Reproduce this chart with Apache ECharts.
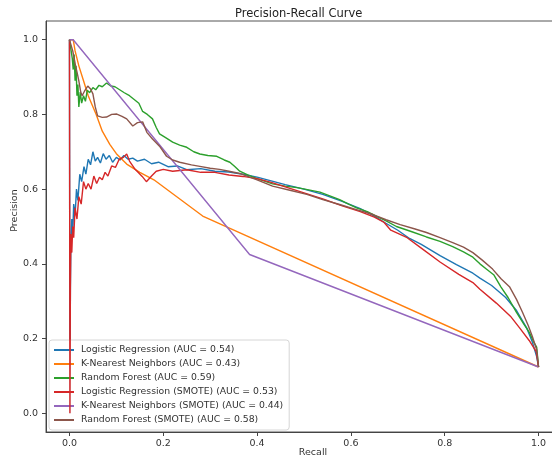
<!DOCTYPE html>
<html>
<head>
<meta charset="utf-8">
<script src="https://cdn.jsdelivr.net/npm/echarts@6/dist/echarts.min.js"></script>
<style>
  html, body { margin: 0; padding: 0; background: #fff; }
  #chart { width: 552px; height: 461px; }
</style>
</head>
<body>
<div id="chart"></div>
<script>
// [recall, precision] points
const lrCurve = [[0,1],[0.001,0.0],[0.002,0.33],[0.003,0.45],[0.005,0.52],[0.007,0.48],[0.009,0.56],[0.012,0.53],[0.015,0.60],[0.018,0.57],[0.022,0.64],[0.026,0.62],[0.031,0.66],[0.035,0.64],[0.040,0.68],[0.045,0.665],[0.050,0.70],[0.055,0.675],[0.060,0.685],[0.066,0.67],[0.072,0.695],[0.078,0.68],[0.085,0.69],[0.092,0.672],[0.10,0.685],[0.108,0.678],[0.116,0.69],[0.125,0.68],[0.135,0.683],[0.145,0.675],[0.16,0.68],[0.175,0.668],[0.19,0.672],[0.21,0.66],[0.23,0.662],[0.25,0.652],[0.28,0.655],[0.31,0.648],[0.34,0.646],[0.37,0.64],[0.40,0.632],[0.43,0.622],[0.46,0.612],[0.50,0.60],[0.54,0.586],[0.58,0.568],[0.62,0.548],[0.65,0.528],[0.67,0.512],[0.70,0.49],[0.725,0.468],[0.75,0.452],[0.79,0.422],[0.825,0.398],[0.86,0.375],[0.875,0.362],[0.90,0.342],[0.93,0.31],[0.953,0.275],[0.975,0.228],[0.987,0.19],[0.996,0.152],[1.0,0.124]];
const knnCurve = [[0,1],[0.008,1.0],[0.012,0.97],[0.02,0.93],[0.03,0.89],[0.04,0.85],[0.057,0.80],[0.07,0.755],[0.086,0.72],[0.10,0.695],[0.122,0.667],[0.15,0.645],[0.18,0.625],[0.284,0.528],[1.0,0.124]];
const rfCurve = [[0,1],[0.004,1.0],[0.006,0.95],[0.008,0.92],[0.010,0.96],[0.012,0.89],[0.014,0.93],[0.016,0.85],[0.018,0.88],[0.020,0.82],[0.023,0.86],[0.026,0.83],[0.03,0.85],[0.034,0.835],[0.038,0.865],[0.043,0.858],[0.05,0.872],[0.056,0.866],[0.063,0.878],[0.07,0.874],[0.079,0.884],[0.088,0.876],[0.097,0.874],[0.107,0.866],[0.117,0.858],[0.128,0.85],[0.14,0.838],[0.148,0.83],[0.156,0.808],[0.166,0.80],[0.177,0.788],[0.185,0.765],[0.192,0.748],[0.205,0.738],[0.22,0.726],[0.235,0.718],[0.25,0.712],[0.265,0.70],[0.278,0.694],[0.295,0.69],[0.314,0.688],[0.33,0.678],[0.342,0.672],[0.353,0.66],[0.363,0.648],[0.38,0.638],[0.40,0.628],[0.433,0.614],[0.46,0.608],[0.485,0.604],[0.51,0.598],[0.534,0.592],[0.555,0.582],[0.576,0.572],[0.595,0.56],[0.612,0.55],[0.635,0.54],[0.655,0.527],[0.675,0.515],[0.697,0.50],[0.73,0.486],[0.761,0.472],[0.79,0.46],[0.817,0.446],[0.84,0.432],[0.86,0.418],[0.875,0.40],[0.89,0.385],[0.905,0.37],[0.92,0.338],[0.935,0.31],[0.953,0.27],[0.968,0.24],[0.981,0.215],[0.99,0.19],[0.996,0.177],[1.0,0.124]];
const lrSmoteCurve = [[0,1],[0.001,0.0],[0.002,0.34],[0.003,0.48],[0.005,0.43],[0.007,0.50],[0.009,0.47],[0.012,0.55],[0.016,0.52],[0.02,0.58],[0.025,0.56],[0.03,0.62],[0.035,0.60],[0.04,0.615],[0.046,0.60],[0.052,0.635],[0.058,0.615],[0.064,0.632],[0.07,0.625],[0.076,0.645],[0.082,0.635],[0.09,0.662],[0.098,0.658],[0.106,0.68],[0.115,0.685],[0.122,0.694],[0.128,0.675],[0.14,0.653],[0.155,0.634],[0.164,0.62],[0.175,0.635],[0.185,0.648],[0.2,0.653],[0.22,0.648],[0.25,0.652],[0.28,0.645],[0.31,0.645],[0.34,0.638],[0.37,0.634],[0.40,0.628],[0.43,0.618],[0.46,0.606],[0.50,0.59],[0.54,0.574],[0.58,0.556],[0.62,0.54],[0.65,0.525],[0.67,0.512],[0.685,0.49],[0.72,0.47],[0.75,0.442],[0.79,0.405],[0.83,0.372],[0.86,0.35],[0.875,0.332],[0.91,0.295],[0.94,0.26],[0.96,0.228],[0.98,0.195],[0.995,0.165],[1.0,0.124]];
const knnSmoteCurve = [[0,1],[0.008,1.0],[0.384,0.425],[1.0,0.124]];
const rfSmoteCurve = [[0,1],[0.004,1.0],[0.007,0.97],[0.01,0.95],[0.013,0.93],[0.016,0.914],[0.02,0.89],[0.024,0.86],[0.027,0.85],[0.032,0.862],[0.039,0.876],[0.045,0.868],[0.05,0.855],[0.055,0.82],[0.06,0.796],[0.07,0.792],[0.079,0.793],[0.09,0.80],[0.101,0.801],[0.112,0.795],[0.122,0.788],[0.135,0.769],[0.145,0.778],[0.156,0.78],[0.165,0.752],[0.177,0.734],[0.192,0.715],[0.207,0.688],[0.22,0.678],[0.235,0.672],[0.26,0.665],[0.278,0.661],[0.30,0.656],[0.32,0.653],[0.34,0.648],[0.363,0.642],[0.40,0.625],[0.433,0.608],[0.47,0.597],[0.506,0.586],[0.54,0.572],[0.576,0.559],[0.61,0.546],[0.647,0.532],[0.675,0.518],[0.705,0.505],[0.735,0.494],[0.761,0.484],[0.79,0.47],[0.817,0.457],[0.84,0.445],[0.86,0.43],[0.88,0.41],[0.902,0.386],[0.92,0.36],[0.938,0.339],[0.953,0.305],[0.966,0.27],[0.978,0.235],[0.987,0.205],[0.996,0.17],[1.0,0.124]];

const seriesNames = [
  'Logistic Regression (AUC = 0.54)',
  'K-Nearest Neighbors (AUC = 0.43)',
  'Random Forest (AUC = 0.59)',
  'Logistic Regression (SMOTE) (AUC = 0.53)',
  'K-Nearest Neighbors (SMOTE) (AUC = 0.44)',
  'Random Forest (SMOTE) (AUC = 0.58)'
];
const curves = [lrCurve, knnCurve, rfCurve, lrSmoteCurve, knnSmoteCurve, rfSmoteCurve];
const colors = ['#1f77b4', '#ff7f0e', '#2ca02c', '#d62728', '#9467bd', '#8c564b'];
const tickValues = [0, 0.2, 0.4, 0.6, 0.8, 1.0];

const font = 'DejaVu Sans';
const chart = echarts.init(document.getElementById('chart'), null, { renderer: 'canvas' });

const axisCommon = {
  type: 'value',
  min: -0.05,
  max: 1.05,
  nameMoveOverlap: false,
  splitLine: { show: false },
  axisLine: { show: true, onZero: false, lineStyle: { color: '#444', width: 1 } },
  axisTick: { show: true, inside: false, length: 4, lineStyle: { color: '#444' }, customValues: tickValues },
  axisLabel: { customValues: tickValues, formatter: v => v.toFixed(1), color: '#333', fontSize: 9.5, fontFamily: font },
  nameTextStyle: { color: '#333', fontSize: 9.5, fontFamily: font }
};

chart.setOption({
  animation: false,
  backgroundColor: '#fff',
  color: colors,
  title: {
    text: 'Precision-Recall Curve',
    left: 230,
    top: 3,
    textStyle: { fontSize: 11.5, fontWeight: 'normal', color: '#222', fontFamily: font }
  },
  grid: {
    left: 46, top: 21, width: 516, height: 411,
    outerBoundsMode: 'none',
    containLabel: false,
    show: true, borderColor: '#555', borderWidth: 1, backgroundColor: 'transparent'
  },
  xAxis: Object.assign({}, axisCommon, {
    name: 'Recall',
    nameLocation: 'middle',
    nameGap: 16,
    axisLabel: Object.assign({}, axisCommon.axisLabel, { margin: 7 }),
    nameTextStyle: Object.assign({}, axisCommon.nameTextStyle, { padding: [0, 0, 0, 18] })
  }),
  yAxis: Object.assign({}, axisCommon, {
    name: 'Precision',
    nameLocation: 'middle',
    nameGap: 26,
    axisLabel: Object.assign({}, axisCommon.axisLabel, { margin: 8 }),
    nameTextStyle: Object.assign({}, axisCommon.nameTextStyle, { padding: [0, 0, 0, 32] })
  }),
  legend: {
    orient: 'vertical',
    left: 49,
    top: 340,
    padding: [4, 6, 4, 5],
    itemGap: 2,
    itemWidth: 20,
    itemHeight: 2,
    icon: 'rect',
    backgroundColor: 'rgba(255,255,255,0.8)',
    borderColor: '#d6d6d6',
    borderWidth: 1,
    borderRadius: 3,
    textStyle: { fontSize: 9.3, lineHeight: 12, color: '#333', fontFamily: font, padding: [0, 0, 0, 2] },
    data: seriesNames
  },
  series: curves.map((c, i) => ({
    name: seriesNames[i],
    type: 'line',
    data: c,
    showSymbol: false,
    symbol: 'none',
    lineStyle: { width: 1.4, color: colors[i] },
    itemStyle: { color: colors[i] },
    z: 2 + i
  }))
});
</script>
</body>
</html>
